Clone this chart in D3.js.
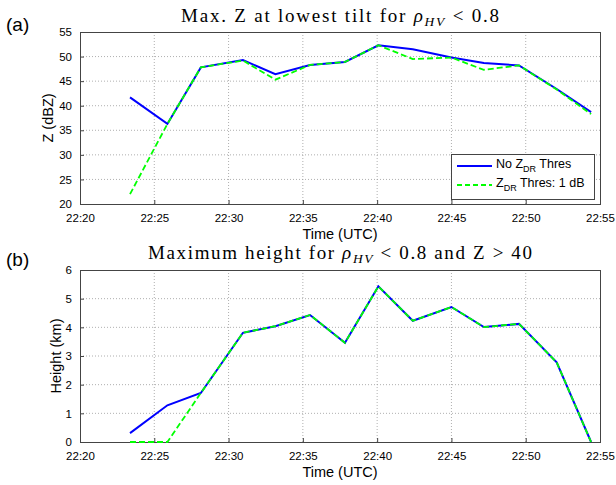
<!DOCTYPE html>
<html>
<head>
<meta charset="utf-8">
<script src="https://cdn.jsdelivr.net/npm/d3@7"></script>
<style>
  body { margin: 0; background: #fff; }
  svg { display: block; }
</style>
</head>
<body>
<div id="chart"></div>
<script>
// scan times (UTC) and the two retrievals for each panel
var scanTimes = ["22:23:22", "22:25:53", "22:28:08", "22:30:58", "22:33:09", "22:35:29", "22:37:50",
                 "22:40:05", "22:42:24", "22:45:00", "22:47:11", "22:49:33", "22:52:05", "22:54:24"];

var zNoThres  = [41.7, 36.3, 47.8, 49.3, 46.4, 48.3, 48.9, 52.3, 51.5, 49.8, 48.7, 48.2, 43.4, 38.7];
var zThres1dB = [22.0, 36.3, 47.8, 49.2, 45.3, 48.3, 48.9, 52.3, 49.5, 49.8, 47.3, 48.2, 43.3, 38.3];

var hNoThres  = [0.31, 1.28, 1.71, 3.81, 4.04, 4.43, 3.46, 5.43, 4.23, 4.71, 4.01, 4.12, 2.78, 0];
var hThres1dB = [0, 0, 1.71, 3.81, 4.04, 4.43, 3.46, 5.43, 4.23, 4.71, 4.01, 4.12, 2.78, 0];

var timeTicks = ["22:20", "22:25", "22:30", "22:35", "22:40", "22:45", "22:50", "22:55"];
var zTicks = [20, 25, 30, 35, 40, 45, 50, 55];
var hTicks = [0, 1, 2, 3, 4, 5, 6];

var seriesNames = ["No Z_DR Thres", "Z_DR Thres: 1 dB"];

var W = 616, H = 485;
var parseFull = d3.timeParse("%H:%M:%S"),
    parseTick = d3.timeParse("%H:%M");

var svg = d3.select("#chart").append("svg")
    .attr("width", W)
    .attr("height", H);

var sans = "'Liberation Sans', Arial, sans-serif",
    serif = "'Liberation Serif', 'DejaVu Serif', serif";

// x scale shared by both panels
var x = d3.scaleTime()
    .domain([parseTick(timeTicks[0]), parseTick(timeTicks[timeTicks.length - 1])])
    .range([80, 600]);

function drawPanel(cfg)
{
    var top = cfg.top, bottom = cfg.bottom, left = 80, right = 600;

    var y = d3.scaleLinear()
        .domain([cfg.yTicks[0], cfg.yTicks[cfg.yTicks.length - 1]])
        .range([bottom, top]);

    var g = svg.append("g");

    // dotted grid
    g.append("g").selectAll("line")
        .data(timeTicks.slice(1, -1))
        .enter().append("line")
        .attr("x1", function(d) { return x(parseTick(d)); })
        .attr("x2", function(d) { return x(parseTick(d)); })
        .attr("y1", top).attr("y2", bottom)
        .attr("stroke", "#9a9a9a")
        .attr("stroke-width", 0.8)
        .attr("stroke-dasharray", "1,2");

    g.append("g").selectAll("line")
        .data(cfg.yTicks.slice(1, -1))
        .enter().append("line")
        .attr("x1", left).attr("x2", right)
        .attr("y1", function(d) { return y(d); })
        .attr("y2", function(d) { return y(d); })
        .attr("stroke", "#9a9a9a")
        .attr("stroke-width", 0.8)
        .attr("stroke-dasharray", "1,2");

    // axes (ticks inward, matlab style)
    var xAxis = d3.axisBottom(x)
        .tickValues(timeTicks.map(parseTick))
        .tickFormat(d3.timeFormat("%H:%M"))
        .tickSizeInner(-4).tickSizeOuter(0).tickPadding(10);

    var yAxis = d3.axisLeft(y)
        .tickValues(cfg.yTicks)
        .tickFormat(d3.format("d"))
        .tickSizeInner(-4).tickSizeOuter(0).tickPadding(8);

    var gx = g.append("g")
        .attr("transform", "translate(0," + bottom + ")")
        .call(xAxis);
    var gy = g.append("g")
        .attr("transform", "translate(" + left + ",0)")
        .call(yAxis);

    [gx, gy].forEach(function(a) {
        a.select(".domain").remove();
        a.selectAll(".tick line").attr("stroke", "#444");
        a.selectAll(".tick text")
            .attr("fill", "#000")
            .style("font-family", sans)
            .style("font-size", "11.5px");
    });

    // box
    g.append("rect")
        .attr("x", left + 0.5).attr("y", top + 0.5)
        .attr("width", right - left).attr("height", bottom - top)
        .attr("fill", "none")
        .attr("stroke", "#444")
        .attr("stroke-width", 1);

    // lines
    var line = d3.line()
        .x(function(d) { return x(d.t); })
        .y(function(d) { return y(d.v); });

    var blueData = scanTimes.map(function(t, i) { return {t: parseFull(t), v: cfg.blue[i]}; });
    var greenData = scanTimes.map(function(t, i) { return {t: parseFull(t), v: cfg.green[i]}; });

    g.append("path")
        .datum(blueData)
        .attr("d", line)
        .attr("fill", "none")
        .attr("stroke", "#0000ff")
        .attr("stroke-width", 2);

    g.append("path")
        .datum(greenData)
        .attr("d", line)
        .attr("fill", "none")
        .attr("stroke", "#00ff00")
        .attr("stroke-width", 1.8)
        .attr("stroke-dasharray", "6,3");

    // y label
    svg.append("text")
        .attr("transform", "translate(" + cfg.yLabelX + "," + ((top + bottom) / 2) + ") rotate(-90)")
        .attr("text-anchor", "middle")
        .style("font-family", sans)
        .style("font-size", "14.5px")
        .text(cfg.yLabel);

    // x label
    svg.append("text")
        .attr("x", (left + right) / 2)
        .attr("y", bottom + 35)
        .attr("text-anchor", "middle")
        .style("font-family", sans)
        .style("font-size", "14.5px")
        .text("Time (UTC)");

    // panel letter
    svg.append("text")
        .attr("x", 6)
        .attr("y", cfg.letterY)
        .style("font-family", sans)
        .style("font-size", "19px")
        .text(cfg.letter);

    // title with rho_HV, stretched to the width of the latex title
    var title = svg.append("text")
        .attr("x", (left + right) / 2)
        .attr("y", cfg.titleY)
        .attr("text-anchor", "middle")
        .attr("textLength", cfg.titleWidth)
        .attr("lengthAdjust", "spacing")
        .style("font-family", serif)
        .style("font-size", "19px");
    title.append("tspan").text(cfg.titleA);
    title.append("tspan").style("font-style", "italic").text("\u03c1");
    title.append("tspan").style("font-style", "italic").style("font-size", "13.5px")
        .attr("dy", 4).text("HV");
    title.append("tspan").attr("dy", -4).text(cfg.titleB);

    return {g: g, y: y};
}

var panelA = drawPanel({
    top: 32, bottom: 204, yTicks: zTicks, blue: zNoThres, green: zThres1dB,
    yLabel: "Z (dBZ)", yLabelX: 53, letter: "(a)", letterY: 31,
    titleY: 22, titleWidth: 318, titleA: "Max. Z at lowest tilt for ", titleB: " < 0.8"
});

var panelB = drawPanel({
    top: 270, bottom: 442, yTicks: hTicks, blue: hNoThres, green: hThres1dB,
    yLabel: "Height (km)", yLabelX: 61, letter: "(b)", letterY: 266,
    titleY: 259, titleWidth: 384, titleA: "Maximum height for ", titleB: " < 0.8 and Z > 40"
});

// legend in panel (a)
var legend = svg.append("g").attr("transform", "translate(451,154)");
legend.append("rect")
    .attr("x", 0.5).attr("y", 0.5)
    .attr("width", 143).attr("height", 45)
    .attr("fill", "#fff")
    .attr("stroke", "#444");

var legendStyles = [
    {color: "#0000ff", dash: null, width: 2},
    {color: "#00ff00", dash: "5,3", width: 1.8}
];

seriesNames.forEach(function(name, i) {
    var ly = 12 + i * 19;
    legend.append("line")
        .attr("x1", 6).attr("x2", 41)
        .attr("y1", ly).attr("y2", ly)
        .attr("stroke", legendStyles[i].color)
        .attr("stroke-width", legendStyles[i].width)
        .attr("stroke-dasharray", legendStyles[i].dash);

    var parts = name.split("_DR");
    var t = legend.append("text")
        .attr("x", 45)
        .attr("y", ly + 2)
        .style("font-family", sans)
        .style("font-size", "12.5px");
    t.append("tspan").text(parts[0]);
    t.append("tspan").attr("dy", 4).style("font-size", "9px").text("DR");
    t.append("tspan").attr("dy", -4).text(parts[1]);
});
</script>
</body>
</html>
